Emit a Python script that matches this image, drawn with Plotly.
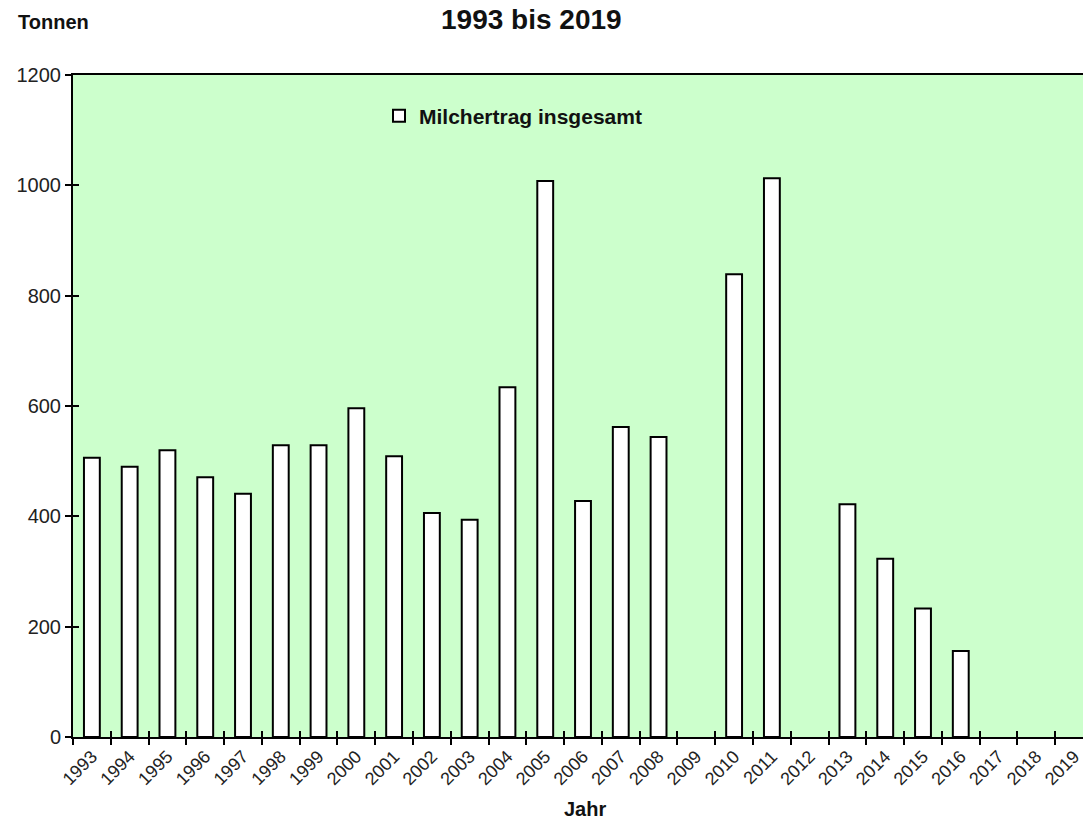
import plotly.graph_objects as go

years = [str(y) for y in range(1993, 2020)]
milchertrag = [506, 490, 520, 471, 441, 529, 529, 596, 509, 406, 394, 634, 1008,
               428, 562, 544, None, 839, 1013, None, 422, 323, 233, 156, None, None, None]

y_ticks = [0, 200, 400, 600, 800, 1000, 1200]

FONT = "Liberation Sans, Arial, sans-serif"

# the page body adds an 8px offset; margins compensate for it
L, T, R, B = 65, 67, 6, 90
PW = 1091 - L - R
PH = 819 - T - B
OFF = 8


def px(xi):
    return (xi - OFF - L) / PW


def py(yi):
    return 1 - (yi - OFF - T) / PH


fig = go.Figure()
fig.add_trace(go.Bar(
    x=years, y=milchertrag, name="<b>Milchertrag insgesamt</b>",
    width=0.42,
    marker=dict(color="white", line=dict(color="black", width=2)),
))
# invisible helper trace for the overlay axes (crossing ticks)
fig.add_trace(go.Scatter(
    x=years, y=[0] * len(years), xaxis="x2", yaxis="y2", mode="lines",
    line=dict(width=0), showlegend=False, hoverinfo="skip",
))

fig.update_layout(
    width=1091, height=819,
    margin=dict(l=L, r=R, t=T, b=B),
    paper_bgcolor="white",
    plot_bgcolor="#ccffcc",
    font=dict(family=FONT, size=18, color="#222222"),
    showlegend=True,
    legend=dict(x=px(379), y=py(116), xanchor="left", yanchor="middle",
                bgcolor="rgba(0,0,0,0)", font=dict(size=21, color="#111111")),
    xaxis=dict(type="category", categoryarray=years, categoryorder="array",
               range=[-0.5, 26.5], tickson="boundaries", ticks="outside",
               ticklen=6, tickwidth=2, tickcolor="black", tickangle=-45,
               showline=True, linecolor="black", linewidth=2, mirror=True,
               showgrid=False, tickfont=dict(size=18), automargin=False),
    yaxis=dict(range=[0, 1200], tickvals=y_ticks, ticks="outside", ticklen=6,
               tickwidth=2, tickcolor="black", showline=True, linecolor="black",
               linewidth=2, mirror=True, showgrid=False, zeroline=False,
               tickfont=dict(size=20), automargin=False),
    xaxis2=dict(type="category", categoryarray=years, categoryorder="array",
                overlaying="x", side="bottom", range=[-0.5, 26.5],
                tickson="boundaries", ticks="inside", ticklen=6, tickwidth=2,
                tickcolor="black", showticklabels=False, showgrid=False,
                showline=False, automargin=False),
    yaxis2=dict(overlaying="y", side="left", range=[0, 1200], tickvals=y_ticks,
                ticks="inside", ticklen=6, tickwidth=2, tickcolor="black",
                showticklabels=False, showgrid=False, zeroline=False,
                showline=False, automargin=False),
    bargap=0.58,
)

fig.add_annotation(text="<b>1993 bis 2019</b>", xref="paper", yref="paper",
                   x=px(531), y=py(19), showarrow=False,
                   font=dict(size=28, color="#111111"), xanchor="center", yanchor="middle")
fig.add_annotation(text="<b>Tonnen</b>", xref="paper", yref="paper",
                   x=px(16), y=py(22), showarrow=False,
                   font=dict(size=20, color="#111111"), xanchor="left", yanchor="middle")
fig.add_annotation(text="<b>Jahr</b>", xref="paper", yref="paper",
                   x=px(585), y=py(809), showarrow=False,
                   font=dict(size=20, color="#111111"), xanchor="center", yanchor="middle")

fig.write_html("out.html")
